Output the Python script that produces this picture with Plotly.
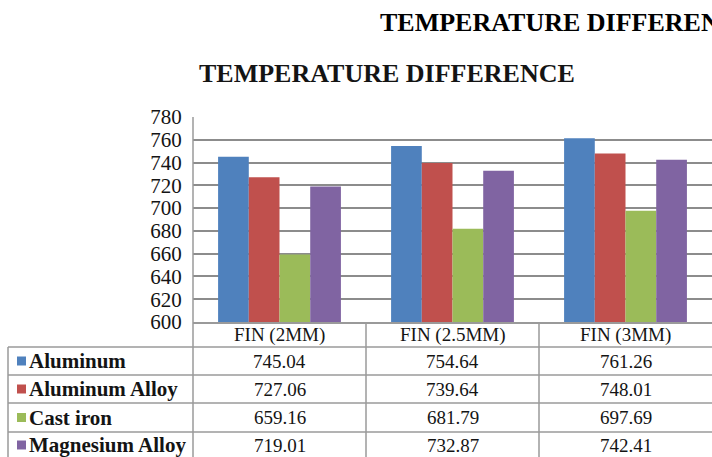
import plotly.graph_objects as go

# ---- data ----
categories = ["FIN (2MM)", "FIN (2.5MM)", "FIN (3MM)"]
series_names = ["Aluminum", "Aluminum Alloy", "Cast iron", "Magnesium Alloy"]
aluminum = [745.04, 754.64, 761.26]
aluminum_alloy = [727.06, 739.64, 748.01]
cast_iron = [659.16, 681.79, 697.69]
magnesium_alloy = [719.01, 732.87, 742.41]
y_ticks = [600, 620, 640, 660, 680, 700, 720, 740, 760, 780]
series_values = [aluminum, aluminum_alloy, cast_iron, magnesium_alloy]

colors = ["#4F81BD", "#C0504D", "#9BBB59", "#8064A2"]
SERIF = "Liberation Serif, Times New Roman, serif"
TXT = "#141414"
LINE = "#9a9a9a"

W, H = 712, 457
L, R, T, B = 193, 0, 117, 135
PW, PH = W - L - R, H - T - B


def px2x(px):
    return (px - L) / PW


def py2y(py):
    return (H - B - py) / PH


fig = go.Figure()
for name, vals, col in zip(series_names, series_values, colors):
    fig.add_trace(go.Bar(x=categories, y=vals, name=name, marker_color=col,
                         marker_line_width=0))

shapes = []
annotations = []

# table grid
row_lines = [347, 375, 403, 432, 460]
for ry in row_lines:
    shapes.append(dict(type="line", xref="paper", yref="paper",
                       x0=px2x(8), x1=px2x(W + 2), y0=py2y(ry), y1=py2y(ry),
                       line=dict(color=LINE, width=1.5)))
# left axis line through table
shapes.append(dict(type="line", xref="paper", yref="paper", x0=0, x1=0,
                   y0=py2y(H + 5), y1=1, line=dict(color=LINE, width=1.5)))
# left border of legend column
shapes.append(dict(type="line", xref="paper", yref="paper", x0=px2x(8), x1=px2x(8),
                   y0=py2y(H + 5), y1=py2y(347), line=dict(color=LINE, width=1.5)))
# column dividers between categories
for xb in [0.5, 1.5]:
    shapes.append(dict(type="line", xref="x", yref="paper", x0=xb, x1=xb,
                       y0=py2y(H + 5), y1=0, line=dict(color=LINE, width=1.5)))

# header row
hdr_y = py2y((322 + 347) / 2)
for i, c in enumerate(categories):
    annotations.append(dict(x=i, y=hdr_y, xref="x", yref="paper", text=c,
                            showarrow=False, xanchor="center", yanchor="middle",
                            font=dict(family=SERIF, size=19, color=TXT)))

# data rows
for r, (name, vals, col) in enumerate(zip(series_names, series_values, colors)):
    top, bot = row_lines[r], row_lines[r + 1]
    cpy = (top + bot) / 2 if r < 3 else 445
    cy = py2y(cpy)
    for i, v in enumerate(vals):
        annotations.append(dict(x=i, y=cy, xref="x", yref="paper", text=f"{v:.2f}",
                                showarrow=False, xanchor="center", yanchor="middle",
                                font=dict(family=SERIF, size=19, color=TXT)))
    shapes.append(dict(type="rect", xref="paper", yref="paper",
                       x0=px2x(17), x1=px2x(26), y0=py2y(cpy - 4.5), y1=py2y(cpy + 4.5),
                       fillcolor=col, line=dict(width=0)))
    annotations.append(dict(x=px2x(27), y=cy, xref="paper", yref="paper", text=f"<b>{name}</b>",
                            showarrow=False, xanchor="left", yanchor="middle",
                            font=dict(family=SERIF, size=21, color=TXT)))

# titles
annotations.append(dict(x=px2x(387), y=py2y(73), xref="paper", yref="paper",
                        text="<b>TEMPERATURE DIFFERENCE</b>", showarrow=False,
                        xanchor="center", yanchor="middle",
                        font=dict(family=SERIF, size=26, color=TXT)))
annotations.append(dict(x=px2x(378), y=py2y(22), xref="paper", yref="paper",
                        text="<b>TEMPERATURE DIFFERENCE</b>", showarrow=False,
                        xanchor="left", yanchor="middle",
                        font=dict(family=SERIF, size=26, color="#000000")))

fig.update_layout(
    width=W, height=H,
    margin=dict(l=L, r=R, t=T, b=B, pad=0),
    paper_bgcolor="white", plot_bgcolor="white",
    barmode="group", bargap=0.29, bargroupgap=0,
    showlegend=False,
    shapes=shapes, annotations=annotations,
    xaxis=dict(type="category", range=[-0.5, 2.5], showticklabels=False,
               showgrid=False, zeroline=False, showline=True, linecolor=LINE,
               linewidth=1.5, ticks=""),
    yaxis=dict(range=[600, 780], tickvals=y_ticks, showgrid=True,
               gridcolor="#8c8c8c", gridwidth=1.5, zeroline=False,
               showline=False, ticks="outside", ticklen=6,
               tickcolor="rgba(0,0,0,0)",
               tickfont=dict(family=SERIF, size=21, color=TXT)),
)

fig.write_html("out.html", config={"displayModeBar": False},
               post_script="document.body.style.margin='0';document.body.style.overflow='hidden';")
